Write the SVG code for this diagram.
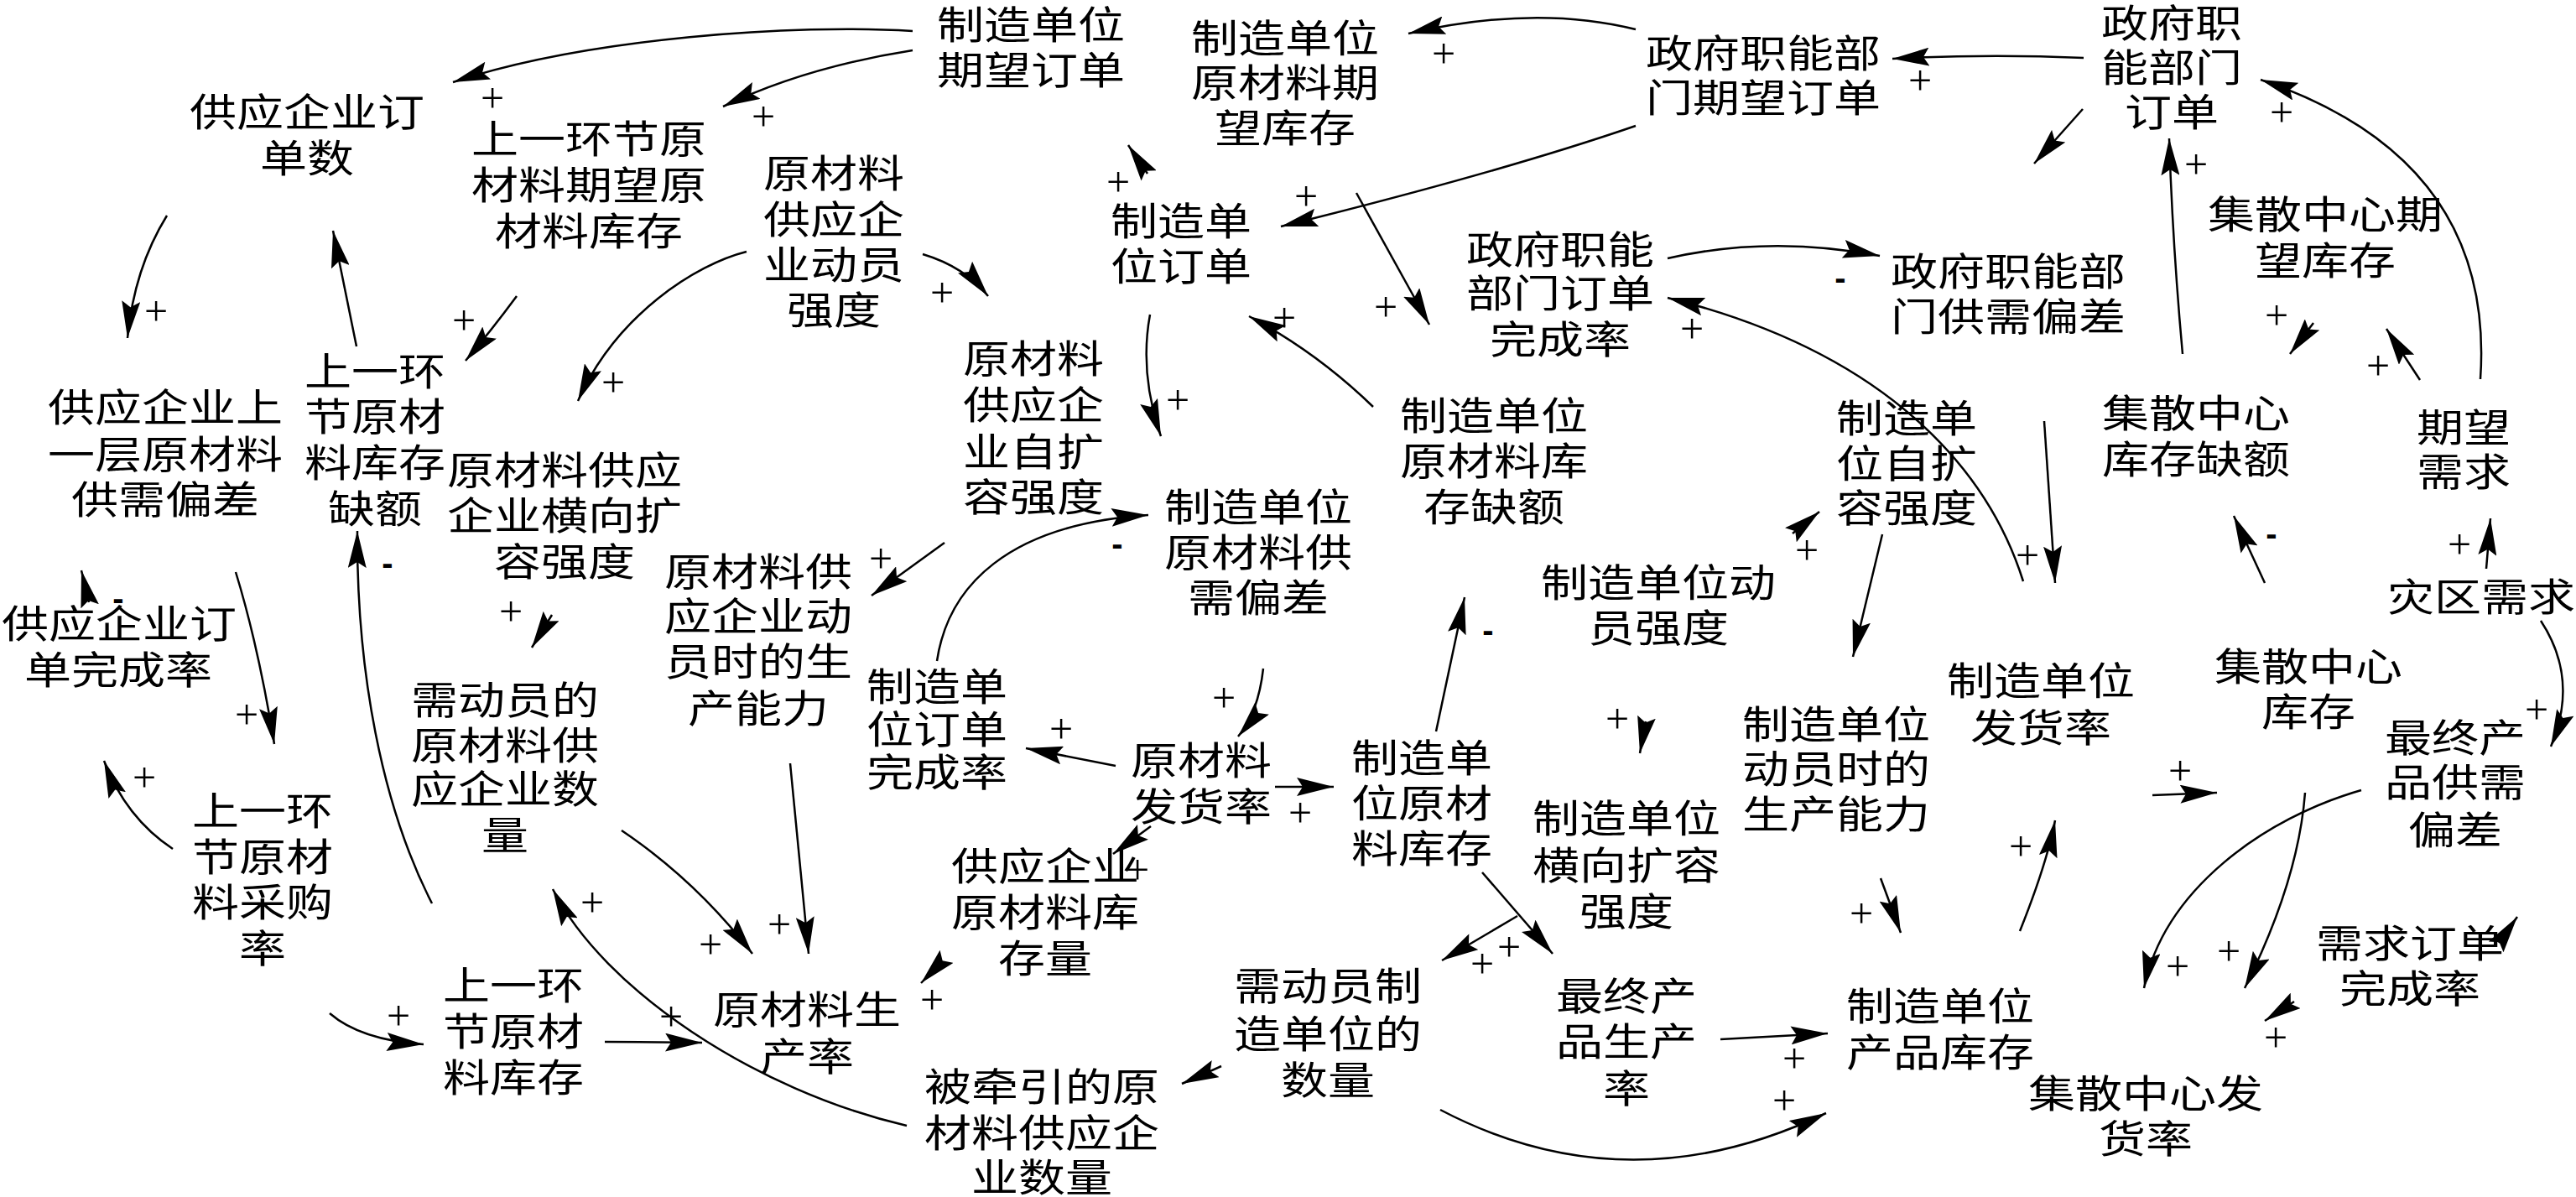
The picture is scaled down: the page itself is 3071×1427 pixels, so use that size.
<svg xmlns="http://www.w3.org/2000/svg" width="3071" height="1427" viewBox="0 0 3071 1427">
<style>
.t{font-family:"Noto Sans CJK SC","Noto Sans",sans-serif;font-size:46px;fill:#000}
.p{font-family:"Liberation Serif",serif;font-size:50px;fill:#000;text-anchor:middle}
.m{font-family:"Liberation Sans",sans-serif;font-weight:bold;font-size:40px;fill:#000;text-anchor:middle}
.c{fill:none;stroke:#000;stroke-width:2.5;marker-end:url(#ah)}
</style>
<defs>
<marker id="ah" viewBox="0 0 44 22" refX="44" refY="11" markerWidth="44" markerHeight="22" markerUnits="userSpaceOnUse" orient="auto"><path d="M0,0 L44,11 L0,22 L7,11 Z" fill="#000"/></marker>
</defs>
<rect width="3071" height="1427" fill="#fff"/>
<g id="connectors">
<path class="c" d="M1088,37 C950,28 700,45 540,98"/>
<path class="c" d="M1088,60 Q960,80 862,127"/>
<path class="c" d="M199,257 Q160,320 152,403"/>
<path class="c" d="M425,413 L397,275"/>
<path class="c" d="M616,353 Q585,395 555,430"/>
<path class="c" d="M890,300 C830,315 735,375 689,478"/>
<path class="c" d="M1100,303 Q1150,318 1178,353"/>
<path class="c" d="M1368,207 L1345,173"/>
<path class="c" d="M1950,150 Q1790,205 1527,270"/>
<path class="c" d="M1950,35 Q1830,5 1679,40"/>
<path class="c" d="M2484,69 Q2370,64 2256,70"/>
<path class="c" d="M2483,130 L2425,195"/>
<path class="c" d="M2602,422 Q2590,290 2586,165"/>
<path class="c" d="M2957,452 Q2975,190 2695,95"/>
<path class="c" d="M2758,385 L2730,422"/>
<path class="c" d="M2885,453 L2845,392"/>
<path class="c" d="M1988,308 Q2110,280 2241,305"/>
<path class="c" d="M2412,693 C2370,560 2250,420 1988,355"/>
<path class="c" d="M1617,230 L1704,387"/>
<path class="c" d="M1126,647 L1039,710"/>
<path class="c" d="M1371,375 Q1358,445 1384,520"/>
<path class="c" d="M1637,485 Q1570,420 1489,377"/>
<path class="c" d="M1117,788 C1130,700 1200,625 1369,614"/>
<path class="c" d="M1506,797 Q1500,850 1476,878"/>
<path class="c" d="M1330,913 L1223,892"/>
<path class="c" d="M942,910 L964,1137"/>
<path class="c" d="M741,990 Q830,1050 897,1137"/>
<path class="c" d="M721,1242 L837,1243"/>
<path class="c" d="M1081,1342 C900,1300 720,1180 659,1060"/>
<path class="c" d="M515,1077 C455,960 425,800 426,633"/>
<path class="c" d="M281,682 Q308,770 327,887"/>
<path class="c" d="M106,718 L97,680"/>
<path class="c" d="M206,1012 Q150,975 124,907"/>
<path class="c" d="M658,733 L634,772"/>
<path class="c" d="M393,1208 Q430,1240 505,1245"/>
<path class="c" d="M1372,985 L1327,1018"/>
<path class="c" d="M1123,1146 L1098,1172"/>
<path class="c" d="M1520,938 L1590,938"/>
<path class="c" d="M1712,872 L1746,712"/>
<path class="c" d="M2137,636 L2169,610"/>
<path class="c" d="M2244,637 L2209,783"/>
<path class="c" d="M1962,860 L1955,898"/>
<path class="c" d="M1767,1040 L1851,1137"/>
<path class="c" d="M1809,1092 L1719,1145"/>
<path class="c" d="M2051,1239 L2179,1232"/>
<path class="c" d="M1717,1323 Q1940,1440 2177,1327"/>
<path class="c" d="M2242,1047 L2266,1112"/>
<path class="c" d="M2437,502 L2450,695"/>
<path class="c" d="M2700,695 L2663,615"/>
<path class="c" d="M2964,678 L2969,618"/>
<path class="c" d="M3029,740 Q3075,810 3041,890"/>
<path class="c" d="M2566,948 L2643,945"/>
<path class="c" d="M2815,942 C2700,975 2580,1060 2556,1178"/>
<path class="c" d="M2748,945 Q2740,1050 2676,1178"/>
<path class="c" d="M2408,1110 Q2440,1030 2450,978"/>
<path class="c" d="M2979,1124 L3001,1093"/>
<path class="c" d="M2735,1194 L2700,1217"/>
<path class="c" d="M1456,1271 L1409,1292"/>
<g id="polarities">
<text class="p" x="587" y="134">+</text>
<text class="p" x="910" y="156">+</text>
<text class="p" x="186" y="388">+</text>
<text class="p" x="553" y="399">+</text>
<text class="p" x="731" y="473">+</text>
<text class="p" x="1123" y="366">+</text>
<text class="p" x="1333" y="234">+</text>
<text class="p" x="1557" y="251">+</text>
<text class="p" x="1721" y="81">+</text>
<text class="p" x="2289" y="113">+</text>
<text class="p" x="2618" y="213">+</text>
<text class="p" x="2720" y="151">+</text>
<text class="p" x="2714" y="393">+</text>
<text class="p" x="2835" y="453">+</text>
<text class="p" x="2017" y="409">+</text>
<text class="p" x="1652" y="383">+</text>
<text class="p" x="1050" y="683">+</text>
<text class="p" x="1404" y="494">+</text>
<text class="p" x="1531" y="396">+</text>
<text class="p" x="1459" y="849">+</text>
<text class="p" x="1265" y="886">+</text>
<text class="p" x="929" y="1119">+</text>
<text class="p" x="847" y="1143">+</text>
<text class="p" x="800" y="1229">+</text>
<text class="p" x="706" y="1093">+</text>
<text class="p" x="294" y="869">+</text>
<text class="p" x="172" y="944">+</text>
<text class="p" x="609" y="746">+</text>
<text class="p" x="475" y="1228">+</text>
<text class="p" x="1356" y="1054">+</text>
<text class="p" x="1111" y="1209">+</text>
<text class="p" x="1550" y="986">+</text>
<text class="p" x="2154" y="673">+</text>
<text class="p" x="1928" y="874">+</text>
<text class="p" x="1799" y="1146">+</text>
<text class="p" x="1767" y="1166">+</text>
<text class="p" x="2139" y="1279">+</text>
<text class="p" x="2127" y="1329">+</text>
<text class="p" x="2219" y="1106">+</text>
<text class="p" x="2417" y="679">+</text>
<text class="p" x="2932" y="666">+</text>
<text class="p" x="3024" y="863">+</text>
<text class="p" x="2599" y="936">+</text>
<text class="p" x="2596" y="1169">+</text>
<text class="p" x="2657" y="1151">+</text>
<text class="p" x="2409" y="1026">+</text>
<text class="p" x="2713" y="1254">+</text>
<text class="m" x="462" y="685">-</text>
<text class="m" x="141" y="727">-</text>
<text class="m" x="2194" y="345">-</text>
<text class="m" x="1332" y="662">-</text>
<text class="m" x="1774" y="765">-</text>
<text class="m" x="2708" y="650">-</text>
</g>
</g>
<g id="n01"><text class="t"><tspan x="226" y="150" textLength="280" lengthAdjust="spacingAndGlyphs">供应企业订</tspan><tspan x="310" y="205" textLength="112" lengthAdjust="spacingAndGlyphs">单数</tspan></text></g>
<g id="n02"><text class="t"><tspan x="562" y="182" textLength="280" lengthAdjust="spacingAndGlyphs">上一环节原</tspan><tspan x="562" y="237" textLength="280" lengthAdjust="spacingAndGlyphs">材料期望原</tspan><tspan x="590" y="292" textLength="224" lengthAdjust="spacingAndGlyphs">材料库存</tspan></text></g>
<g id="n03"><text class="t"><tspan x="1117" y="46" textLength="224" lengthAdjust="spacingAndGlyphs">制造单位</tspan><tspan x="1117" y="100" textLength="224" lengthAdjust="spacingAndGlyphs">期望订单</tspan></text></g>
<g id="n04"><text class="t"><tspan x="1420" y="62" textLength="224" lengthAdjust="spacingAndGlyphs">制造单位</tspan><tspan x="1420" y="115" textLength="224" lengthAdjust="spacingAndGlyphs">原材料期</tspan><tspan x="1448" y="169" textLength="168" lengthAdjust="spacingAndGlyphs">望库存</tspan></text></g>
<g id="n05"><text class="t"><tspan x="1962" y="80" textLength="280" lengthAdjust="spacingAndGlyphs">政府职能部</tspan><tspan x="1962" y="133" textLength="280" lengthAdjust="spacingAndGlyphs">门期望订单</tspan></text></g>
<g id="n06"><text class="t"><tspan x="2505" y="44" textLength="168" lengthAdjust="spacingAndGlyphs">政府职</tspan><tspan x="2505" y="97" textLength="168" lengthAdjust="spacingAndGlyphs">能部门</tspan><tspan x="2533" y="150" textLength="112" lengthAdjust="spacingAndGlyphs">订单</tspan></text></g>
<g id="n07"><text class="t"><tspan x="910" y="223" textLength="168" lengthAdjust="spacingAndGlyphs">原材料</tspan><tspan x="910" y="278" textLength="168" lengthAdjust="spacingAndGlyphs">供应企</tspan><tspan x="910" y="332" textLength="168" lengthAdjust="spacingAndGlyphs">业动员</tspan><tspan x="938" y="386" textLength="112" lengthAdjust="spacingAndGlyphs">强度</tspan></text></g>
<g id="n08"><text class="t"><tspan x="1324" y="280" textLength="168" lengthAdjust="spacingAndGlyphs">制造单</tspan><tspan x="1324" y="334" textLength="168" lengthAdjust="spacingAndGlyphs">位订单</tspan></text></g>
<g id="n09"><text class="t"><tspan x="1748" y="314" textLength="224" lengthAdjust="spacingAndGlyphs">政府职能</tspan><tspan x="1748" y="366" textLength="224" lengthAdjust="spacingAndGlyphs">部门订单</tspan><tspan x="1776" y="421" textLength="168" lengthAdjust="spacingAndGlyphs">完成率</tspan></text></g>
<g id="n10"><text class="t"><tspan x="2254" y="340" textLength="280" lengthAdjust="spacingAndGlyphs">政府职能部</tspan><tspan x="2254" y="394" textLength="280" lengthAdjust="spacingAndGlyphs">门供需偏差</tspan></text></g>
<g id="n11"><text class="t"><tspan x="2632" y="272" textLength="280" lengthAdjust="spacingAndGlyphs">集散中心期</tspan><tspan x="2688" y="327" textLength="168" lengthAdjust="spacingAndGlyphs">望库存</tspan></text></g>
<g id="n12"><text class="t"><tspan x="363" y="459" textLength="168" lengthAdjust="spacingAndGlyphs">上一环</tspan><tspan x="363" y="513" textLength="168" lengthAdjust="spacingAndGlyphs">节原材</tspan><tspan x="363" y="568" textLength="168" lengthAdjust="spacingAndGlyphs">料库存</tspan><tspan x="391" y="623" textLength="112" lengthAdjust="spacingAndGlyphs">缺额</tspan></text></g>
<g id="n13"><text class="t"><tspan x="57" y="502" textLength="280" lengthAdjust="spacingAndGlyphs">供应企业上</tspan><tspan x="57" y="558" textLength="280" lengthAdjust="spacingAndGlyphs">一层原材料</tspan><tspan x="85" y="612" textLength="224" lengthAdjust="spacingAndGlyphs">供需偏差</tspan></text></g>
<g id="n14"><text class="t"><tspan x="533" y="577" textLength="280" lengthAdjust="spacingAndGlyphs">原材料供应</tspan><tspan x="533" y="631" textLength="280" lengthAdjust="spacingAndGlyphs">企业横向扩</tspan><tspan x="589" y="686" textLength="168" lengthAdjust="spacingAndGlyphs">容强度</tspan></text></g>
<g id="n15"><text class="t"><tspan x="1148" y="444" textLength="168" lengthAdjust="spacingAndGlyphs">原材料</tspan><tspan x="1148" y="499" textLength="168" lengthAdjust="spacingAndGlyphs">供应企</tspan><tspan x="1148" y="555" textLength="168" lengthAdjust="spacingAndGlyphs">业自扩</tspan><tspan x="1148" y="609" textLength="168" lengthAdjust="spacingAndGlyphs">容强度</tspan></text></g>
<g id="n16"><text class="t"><tspan x="1669" y="512" textLength="224" lengthAdjust="spacingAndGlyphs">制造单位</tspan><tspan x="1669" y="566" textLength="224" lengthAdjust="spacingAndGlyphs">原材料库</tspan><tspan x="1697" y="621" textLength="168" lengthAdjust="spacingAndGlyphs">存缺额</tspan></text></g>
<g id="n17"><text class="t"><tspan x="2189" y="515" textLength="168" lengthAdjust="spacingAndGlyphs">制造单</tspan><tspan x="2189" y="569" textLength="168" lengthAdjust="spacingAndGlyphs">位自扩</tspan><tspan x="2189" y="622" textLength="168" lengthAdjust="spacingAndGlyphs">容强度</tspan></text></g>
<g id="n18"><text class="t"><tspan x="2506" y="509" textLength="224" lengthAdjust="spacingAndGlyphs">集散中心</tspan><tspan x="2506" y="564" textLength="224" lengthAdjust="spacingAndGlyphs">库存缺额</tspan></text></g>
<g id="n19"><text class="t"><tspan x="2881" y="526" textLength="112" lengthAdjust="spacingAndGlyphs">期望</tspan><tspan x="2881" y="579" textLength="112" lengthAdjust="spacingAndGlyphs">需求</tspan></text></g>
<g id="n20"><text class="t"><tspan x="1388" y="621" textLength="224" lengthAdjust="spacingAndGlyphs">制造单位</tspan><tspan x="1388" y="675" textLength="224" lengthAdjust="spacingAndGlyphs">原材料供</tspan><tspan x="1416" y="729" textLength="168" lengthAdjust="spacingAndGlyphs">需偏差</tspan></text></g>
<g id="n21"><text class="t"><tspan x="792" y="698" textLength="224" lengthAdjust="spacingAndGlyphs">原材料供</tspan><tspan x="792" y="751" textLength="224" lengthAdjust="spacingAndGlyphs">应企业动</tspan><tspan x="792" y="805" textLength="224" lengthAdjust="spacingAndGlyphs">员时的生</tspan><tspan x="820" y="861" textLength="168" lengthAdjust="spacingAndGlyphs">产能力</tspan></text></g>
<g id="n22"><text class="t"><tspan x="1837" y="711" textLength="280" lengthAdjust="spacingAndGlyphs">制造单位动</tspan><tspan x="1893" y="765" textLength="168" lengthAdjust="spacingAndGlyphs">员强度</tspan></text></g>
<g id="n23"><text class="t"><tspan x="2846" y="728" textLength="224" lengthAdjust="spacingAndGlyphs">灾区需求</tspan></text></g>
<g id="n24"><text class="t"><tspan x="2" y="760" textLength="280" lengthAdjust="spacingAndGlyphs">供应企业订</tspan><tspan x="29" y="815" textLength="224" lengthAdjust="spacingAndGlyphs">单完成率</tspan></text></g>
<g id="n25"><text class="t"><tspan x="490" y="851" textLength="224" lengthAdjust="spacingAndGlyphs">需动员的</tspan><tspan x="490" y="905" textLength="224" lengthAdjust="spacingAndGlyphs">原材料供</tspan><tspan x="490" y="957" textLength="224" lengthAdjust="spacingAndGlyphs">应企业数</tspan><tspan x="574" y="1012" textLength="56" lengthAdjust="spacingAndGlyphs">量</tspan></text></g>
<g id="n26"><text class="t"><tspan x="1033" y="835" textLength="168" lengthAdjust="spacingAndGlyphs">制造单</tspan><tspan x="1033" y="886" textLength="168" lengthAdjust="spacingAndGlyphs">位订单</tspan><tspan x="1033" y="937" textLength="168" lengthAdjust="spacingAndGlyphs">完成率</tspan></text></g>
<g id="n27"><text class="t"><tspan x="1348" y="923" textLength="168" lengthAdjust="spacingAndGlyphs">原材料</tspan><tspan x="1348" y="978" textLength="168" lengthAdjust="spacingAndGlyphs">发货率</tspan></text></g>
<g id="n28"><text class="t"><tspan x="1611" y="920" textLength="168" lengthAdjust="spacingAndGlyphs">制造单</tspan><tspan x="1611" y="974" textLength="168" lengthAdjust="spacingAndGlyphs">位原材</tspan><tspan x="1611" y="1028" textLength="168" lengthAdjust="spacingAndGlyphs">料库存</tspan></text></g>
<g id="n29"><text class="t"><tspan x="1827" y="992" textLength="224" lengthAdjust="spacingAndGlyphs">制造单位</tspan><tspan x="1827" y="1048" textLength="224" lengthAdjust="spacingAndGlyphs">横向扩容</tspan><tspan x="1883" y="1103" textLength="112" lengthAdjust="spacingAndGlyphs">强度</tspan></text></g>
<g id="n30"><text class="t"><tspan x="2077" y="880" textLength="224" lengthAdjust="spacingAndGlyphs">制造单位</tspan><tspan x="2077" y="933" textLength="224" lengthAdjust="spacingAndGlyphs">动员时的</tspan><tspan x="2077" y="987" textLength="224" lengthAdjust="spacingAndGlyphs">生产能力</tspan></text></g>
<g id="n31"><text class="t"><tspan x="2321" y="828" textLength="224" lengthAdjust="spacingAndGlyphs">制造单位</tspan><tspan x="2349" y="884" textLength="168" lengthAdjust="spacingAndGlyphs">发货率</tspan></text></g>
<g id="n32"><text class="t"><tspan x="2640" y="811" textLength="224" lengthAdjust="spacingAndGlyphs">集散中心</tspan><tspan x="2696" y="865" textLength="112" lengthAdjust="spacingAndGlyphs">库存</tspan></text></g>
<g id="n33"><text class="t"><tspan x="2843" y="896" textLength="168" lengthAdjust="spacingAndGlyphs">最终产</tspan><tspan x="2843" y="949" textLength="168" lengthAdjust="spacingAndGlyphs">品供需</tspan><tspan x="2871" y="1006" textLength="112" lengthAdjust="spacingAndGlyphs">偏差</tspan></text></g>
<g id="n34"><text class="t"><tspan x="229" y="983" textLength="168" lengthAdjust="spacingAndGlyphs">上一环</tspan><tspan x="229" y="1038" textLength="168" lengthAdjust="spacingAndGlyphs">节原材</tspan><tspan x="229" y="1092" textLength="168" lengthAdjust="spacingAndGlyphs">料采购</tspan><tspan x="285" y="1147" textLength="56" lengthAdjust="spacingAndGlyphs">率</tspan></text></g>
<g id="n35"><text class="t"><tspan x="528" y="1191" textLength="168" lengthAdjust="spacingAndGlyphs">上一环</tspan><tspan x="528" y="1246" textLength="168" lengthAdjust="spacingAndGlyphs">节原材</tspan><tspan x="528" y="1301" textLength="168" lengthAdjust="spacingAndGlyphs">料库存</tspan></text></g>
<g id="n36"><text class="t"><tspan x="850" y="1220" textLength="224" lengthAdjust="spacingAndGlyphs">原材料生</tspan><tspan x="906" y="1276" textLength="112" lengthAdjust="spacingAndGlyphs">产率</tspan></text></g>
<g id="n37"><text class="t"><tspan x="1134" y="1049" textLength="224" lengthAdjust="spacingAndGlyphs">供应企业</tspan><tspan x="1134" y="1104" textLength="224" lengthAdjust="spacingAndGlyphs">原材料库</tspan><tspan x="1190" y="1159" textLength="112" lengthAdjust="spacingAndGlyphs">存量</tspan></text></g>
<g id="n38"><text class="t"><tspan x="1102" y="1312" textLength="280" lengthAdjust="spacingAndGlyphs">被牵引的原</tspan><tspan x="1102" y="1367" textLength="280" lengthAdjust="spacingAndGlyphs">材料供应企</tspan><tspan x="1158" y="1420" textLength="168" lengthAdjust="spacingAndGlyphs">业数量</tspan></text></g>
<g id="n39"><text class="t"><tspan x="1471" y="1192" textLength="224" lengthAdjust="spacingAndGlyphs">需动员制</tspan><tspan x="1471" y="1249" textLength="224" lengthAdjust="spacingAndGlyphs">造单位的</tspan><tspan x="1527" y="1304" textLength="112" lengthAdjust="spacingAndGlyphs">数量</tspan></text></g>
<g id="n40"><text class="t"><tspan x="1855" y="1204" textLength="168" lengthAdjust="spacingAndGlyphs">最终产</tspan><tspan x="1855" y="1258" textLength="168" lengthAdjust="spacingAndGlyphs">品生产</tspan><tspan x="1911" y="1314" textLength="56" lengthAdjust="spacingAndGlyphs">率</tspan></text></g>
<g id="n41"><text class="t"><tspan x="2201" y="1216" textLength="224" lengthAdjust="spacingAndGlyphs">制造单位</tspan><tspan x="2201" y="1271" textLength="224" lengthAdjust="spacingAndGlyphs">产品库存</tspan></text></g>
<g id="n42"><text class="t"><tspan x="2761" y="1141" textLength="224" lengthAdjust="spacingAndGlyphs">需求订单</tspan><tspan x="2789" y="1195" textLength="168" lengthAdjust="spacingAndGlyphs">完成率</tspan></text></g>
<g id="n43"><text class="t"><tspan x="2418" y="1320" textLength="280" lengthAdjust="spacingAndGlyphs">集散中心发</tspan><tspan x="2502" y="1374" textLength="112" lengthAdjust="spacingAndGlyphs">货率</tspan></text></g>
</svg>
